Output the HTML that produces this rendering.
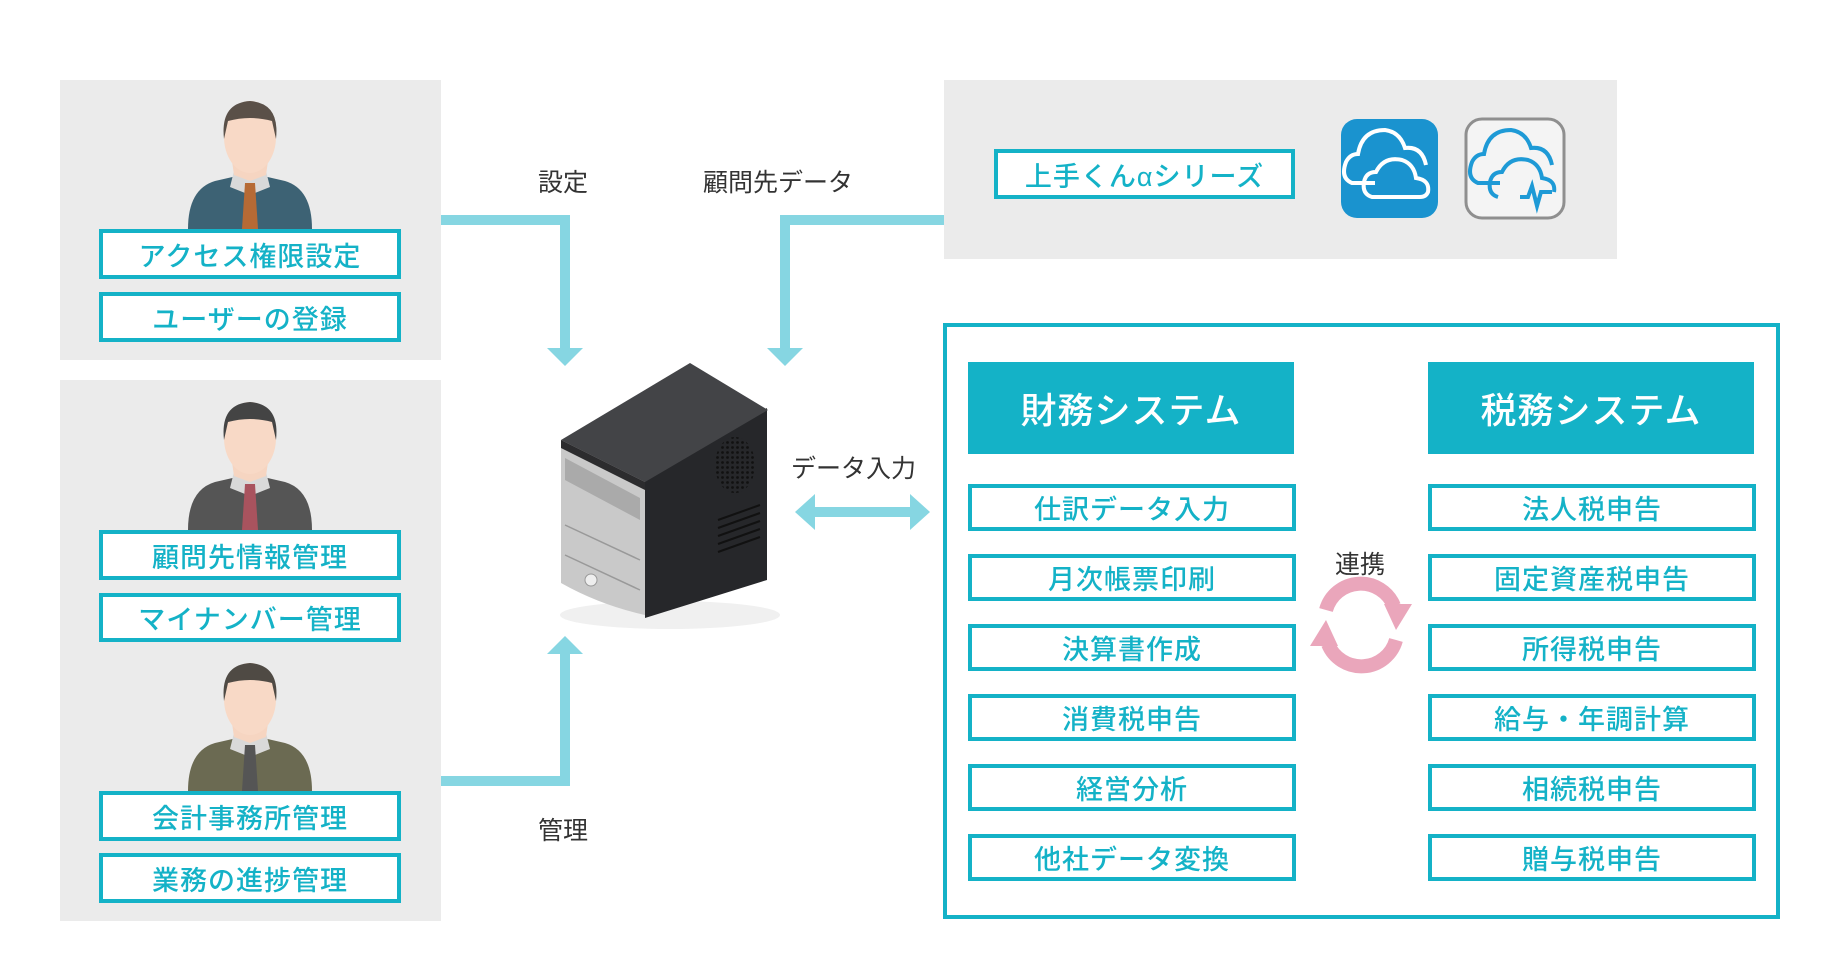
<!DOCTYPE html>
<html><head><meta charset="utf-8"><style>
body{margin:0;width:1840px;height:980px;background:#fff;position:relative;overflow:hidden;font-family:"Liberation Sans","Noto Sans CJK JP",sans-serif}
.a{position:absolute}
.panel{position:absolute;background:#ebebeb}
.box{position:absolute;box-sizing:border-box;border:4px solid #14b2c7;background:#fff;color:#14b2c7;font-size:27px;font-weight:500;display:flex;align-items:center;justify-content:center;letter-spacing:1px}
.hdr{position:absolute;background:#14b2c7;color:#fff;font-size:36px;font-weight:500;display:flex;align-items:center;justify-content:center;letter-spacing:1px}
.lbl{position:absolute;font-size:25px;color:#333;white-space:nowrap}
</style></head><body>
<div class="panel" style="left:60px;top:80px;width:381px;height:280px"></div>
<div class="panel" style="left:60px;top:380px;width:381px;height:541px"></div>
<div class="panel" style="left:944px;top:80px;width:673px;height:179px"></div>

<svg class="a" style="left:0;top:0" width="1840" height="980">
<defs>
<g id="p">
<path d="M188 128 Q188 88 215 80 L250 72 L285 80 Q312 88 312 128 Z" fill="var(--s)"/>
<path d="M235 66 L265 66 L270 86 L250 94 L230 86 Z" fill="#d9d9d9"/>
<path d="M245 82 L255 82 L258 128 L242 128 Z" fill="var(--t)"/>
<path d="M232 60 L268 60 L266 74 L250 80 L234 74 Z" fill="#f6d5c1"/>
<ellipse cx="250" cy="36" rx="26" ry="36" fill="#f8d9c6"/>
<path d="M224 38 Q220 2 250 0 Q280 2 276 38 L272 20 Q250 14 228 20 Z" fill="var(--h)"/>
</g>
<pattern id="dots" width="5" height="5" patternUnits="userSpaceOnUse"><circle cx="2.5" cy="2.5" r="1.4" fill="#111"/></pattern>
</defs>
<use href="#p" x="0" y="101" style="--s:#3d6274;--t:#b66a35;--h:#5a5048"/>
<use href="#p" x="0" y="402" style="--s:#555;--t:#a9535e;--h:#444"/>
<use href="#p" x="0" y="663" style="--s:#6b6a52;--t:#555;--h:#4f4a44"/>

<g fill="none" stroke="#86d6e2" stroke-width="10">
<path d="M441 220 H565 V350"/>
<path d="M944 220 H785 V350"/>
<path d="M441 781 H565 V652"/>
<path d="M810 512 H915"/>
</g>
<g fill="#86d6e2">
<path d="M547 348 H583 L565 366 Z"/>
<path d="M767 348 H803 L785 366 Z"/>
<path d="M547 654 H583 L565 636 Z"/>
<path d="M795 512 L815 494 V530 Z"/>
<path d="M930 512 L910 494 V530 Z"/>
</g>

<!-- server -->
<ellipse cx="670" cy="615" rx="110" ry="14" fill="#f0f0f0"/>
<path d="M561 440 L561 583 Q600 605 645 615 L645 480 Z" fill="#c9c9c9"/>
<path d="M565 458 L640 498 L640 520 L565 480Z" fill="#aaa"/>
<path d="M565 525 L640 560 M565 555 L640 590" stroke="#999" stroke-width="1.5"/>
<circle cx="591" cy="580" r="6" fill="#eee" stroke="#999"/>
<path d="M645 480 L767 408 L767 580 L645 618 Z" fill="#26272a"/>
<ellipse cx="735" cy="465" rx="20" ry="28" fill="url(#dots)"/>
<g stroke="#111" stroke-width="2"><path d="M718 520 L760 505 M718 528 L760 513 M718 536 L760 521 M718 544 L760 529 M718 552 L760 537"/></g>
<path d="M561 440 L690 363 L768 410 L645 482 Z" fill="#434447"/>
<path d="M561 440 L645 482 L645 490 L561 448 Z" fill="#2c2c2e"/>

<!-- cycle -->
<g fill="none" stroke="#eaa6bb" stroke-width="14">
<path d="M1326 610 A36 36 0 0 1 1394 606"/>
<path d="M1396 640 A36 36 0 0 1 1328 644"/>
</g>
<path d="M1384 604 L1412 604 L1396 630 Z" fill="#eaa6bb"/>
<path d="M1338 646 L1310 646 L1326 620 Z" fill="#eaa6bb"/>

<!-- icons -->
<rect x="1341" y="119" width="97" height="99" rx="16" fill="#1a93cf"/>
<g fill="none" stroke="#fff" stroke-width="4">
<path d="M1375 183 H1352 Q1340 178 1346 162 Q1350 154 1358 154 Q1362 130 1385 130 Q1400 132 1405 148 Q1422 146 1426 165"/>
<path d="M1372 197 Q1362 194 1364 182 Q1366 172 1376 172 Q1384 156 1402 160 Q1414 164 1416 178 Q1430 180 1428 192 Q1426 197 1420 197 Z"/>
</g>
<rect x="1466" y="119" width="98" height="99" rx="16" fill="#f4f4f4" stroke="#8f8f8f" stroke-width="3"/>
<g fill="none" stroke="#1e9ad6" stroke-width="4">
<path d="M1500 183 H1478 Q1466 178 1472 162 Q1476 154 1484 154 Q1488 130 1511 130 Q1526 132 1531 148 Q1548 146 1552 165"/>
<path d="M1498 197 Q1488 194 1490 182 Q1492 172 1502 172 Q1510 156 1528 160 Q1540 164 1542 178 Q1556 180 1554 192 M1520 197 H1528 L1532 186 L1537 206 L1541 192 H1552"/>
</g>
</svg>

<div class="box" style="left:99px;top:229px;width:302px;height:50px">アクセス権限設定</div>
<div class="box" style="left:99px;top:292px;width:302px;height:50px">ユーザーの登録</div>
<div class="box" style="left:99px;top:530px;width:302px;height:50px">顧問先情報管理</div>
<div class="box" style="left:99px;top:593px;width:302px;height:49px">マイナンバー管理</div>
<div class="box" style="left:99px;top:791px;width:302px;height:50px">会計事務所管理</div>
<div class="box" style="left:99px;top:853px;width:302px;height:50px">業務の進捗管理</div>

<div class="lbl" style="left:538px;top:163px">設定</div>
<div class="lbl" style="left:703px;top:163px">顧問先データ</div>
<div class="lbl" style="left:791px;top:449px">データ入力</div>
<div class="lbl" style="left:538px;top:811px">管理</div>
<div class="lbl" style="left:1335px;top:545px">連携</div>

<div class="box" style="left:994px;top:149px;width:301px;height:50px">上手くんαシリーズ</div>

<div class="a" style="left:943px;top:323px;width:837px;height:596px;box-sizing:border-box;border:4px solid #14b2c7"></div>
<div class="hdr" style="left:968px;top:362px;width:326px;height:92px">財務システム</div>
<div class="hdr" style="left:1428px;top:362px;width:326px;height:92px">税務システム</div>

<div class="box" style="left:968px;top:484px;width:328px;height:47px">仕訳データ入力</div>
<div class="box" style="left:968px;top:554px;width:328px;height:47px">月次帳票印刷</div>
<div class="box" style="left:968px;top:624px;width:328px;height:47px">決算書作成</div>
<div class="box" style="left:968px;top:694px;width:328px;height:47px">消費税申告</div>
<div class="box" style="left:968px;top:764px;width:328px;height:47px">経営分析</div>
<div class="box" style="left:968px;top:834px;width:328px;height:47px">他社データ変換</div>
<div class="box" style="left:1428px;top:484px;width:328px;height:47px">法人税申告</div>
<div class="box" style="left:1428px;top:554px;width:328px;height:47px">固定資産税申告</div>
<div class="box" style="left:1428px;top:624px;width:328px;height:47px">所得税申告</div>
<div class="box" style="left:1428px;top:694px;width:328px;height:47px">給与・年調計算</div>
<div class="box" style="left:1428px;top:764px;width:328px;height:47px">相続税申告</div>
<div class="box" style="left:1428px;top:834px;width:328px;height:47px">贈与税申告</div>
</body></html>
